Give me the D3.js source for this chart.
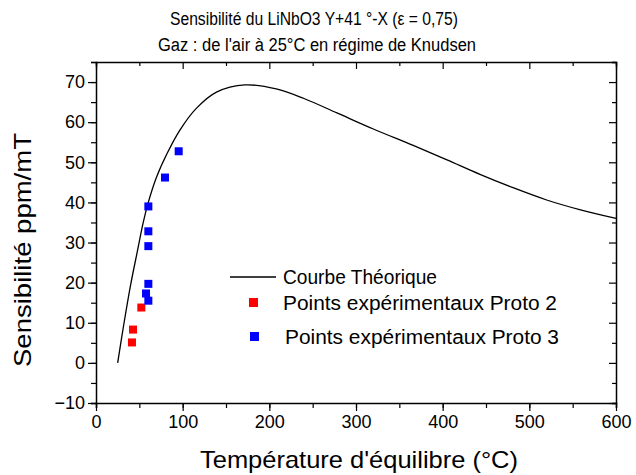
<!DOCTYPE html>
<html>
<head>
<meta charset="utf-8">
<script src="https://cdn.jsdelivr.net/npm/d3@7"></script>
<style>
  body { margin: 0; background: #fff; }
  svg { font-family: "Liberation Sans", Arial, sans-serif; }
</style>
</head>
<body>
<svg width="636" height="475"></svg>
<script>
// theoretical curve
const curveT = [25, 32, 40, 48, 54, 60, 70, 82, 97, 116, 139, 172, 208, 240, 278, 320, 366, 405, 443, 482, 520, 558, 600];
const curveS = [0, 9.5, 19.5, 28.1, 34.5, 39.75, 46.4, 52.2, 58.1, 63.5, 67.5, 69.3, 68.3, 65.9, 62.3, 58.3, 54.2, 50.6, 47.0, 43.6, 40.6, 38.2, 36.0];

// experimental points
const proto2T = [41.5, 42.7, 52.3];
const proto2S = [5.1, 8.3, 13.8];
const proto3T = [60.4, 57.7, 60.4, 60.4, 60.4, 60.4, 79.6, 95.4];
const proto3S = [15.5, 17.3, 19.7, 29.1, 32.8, 39, 46.2, 52.75];

const xTicks = [0, 100, 200, 300, 400, 500, 600];
const yTicks = [-10, 0, 10, 20, 30, 40, 50, 60, 70];

const margin = {top: 62, right: 20, bottom: 72, left: 96};
const width = 636 - margin.left - margin.right;
const height = 475 - margin.top - margin.bottom;

const svg = d3.select('svg');
const g = svg.append('g').attr('transform', `translate(${margin.left},${margin.top})`);

const x = d3.scaleLinear().domain([0, 600]).range([0, width]);
const y = d3.scaleLinear().domain([-10, 75]).range([height, 0]);

const minorX = d3.range(0, 601, 50);
const minorY = d3.range(-10, 76, 5);

// bottom axis, ticks outward
g.append('g').attr('transform', `translate(0,${height})`)
  .call(d3.axisBottom(x).tickValues(minorX).tickSize(5).tickFormat(''));
g.append('g').attr('transform', `translate(0,${height})`)
  .call(d3.axisBottom(x).tickValues(xTicks).tickSize(8).tickPadding(4).tickFormat(d3.format('d')))
  .call(a => a.select('.domain').remove())
  .selectAll('text').attr('font-size', 18).attr('fill', '#000').attr('font-family', 'Liberation Sans, Arial, sans-serif');

// left axis, ticks outward
g.append('g')
  .call(d3.axisLeft(y).tickValues(minorY).tickSize(5).tickFormat(''));
g.append('g')
  .call(d3.axisLeft(y).tickValues(yTicks).tickSize(8).tickPadding(3).tickFormat(d3.format('d')))
  .call(a => a.select('.domain').remove())
  .selectAll('text').attr('font-size', 18).attr('fill', '#000').attr('font-family', 'Liberation Sans, Arial, sans-serif');

// top and right axes, ticks inward
g.append('g')
  .call(d3.axisTop(x).tickValues(minorX).tickSize(-4).tickFormat(''))
  .call(a => a.selectAll('.tick line').filter(d => d % 100 === 0).attr('y2', 7));
g.append('g').attr('transform', `translate(${width},0)`)
  .call(d3.axisRight(y).tickValues(minorY).tickSize(-4).tickFormat(''))
  .call(a => a.selectAll('.tick line').filter(d => d % 10 === 0).attr('x2', -7));

g.selectAll('.domain').attr('stroke', '#000').attr('stroke-width', 1.5);
g.selectAll('.tick line').attr('stroke', '#000').attr('stroke-width', 1.2);

// theoretical curve
const curveData = curveT.map((t, i) => ({t: t, s: curveS[i]}));
const line = d3.line()
  .x(d => x(d.t))
  .y(d => y(d.s))
  .curve(d3.curveCatmullRom);

g.append('path')
  .attr('d', line(curveData))
  .attr('fill', 'none')
  .attr('stroke', '#000')
  .attr('stroke-width', 1.3);

// points
const sq = 8;
const p2 = proto2T.map((t, i) => ({t: t, s: proto2S[i]}));
const p3 = proto3T.map((t, i) => ({t: t, s: proto3S[i]}));

g.selectAll('.p2').data(p2).enter().append('rect')
  .attr('x', d => x(d.t) - sq / 2)
  .attr('y', d => y(d.s) - sq / 2)
  .attr('width', sq).attr('height', sq)
  .attr('fill', '#ff0000');

g.selectAll('.p3').data(p3).enter().append('rect')
  .attr('x', d => x(d.t) - sq / 2)
  .attr('y', d => y(d.s) - sq / 2)
  .attr('width', sq).attr('height', sq)
  .attr('fill', '#0000ff');

// legend
const lg = svg.append('g').attr('font-size', 20).attr('fill', '#000');
lg.append('line').attr('x1', 230).attr('x2', 276).attr('y1', 277).attr('y2', 277)
  .attr('stroke', '#000').attr('stroke-width', 1.3);
lg.append('text').attr('x', 283).attr('y', 284).attr('textLength', 154).attr('lengthAdjust', 'spacingAndGlyphs')
  .text('Courbe Théorique');
lg.append('rect').attr('x', 249).attr('y', 298).attr('width', 9).attr('height', 9).attr('fill', '#ff0000');
lg.append('text').attr('x', 283).attr('y', 310).attr('textLength', 274).attr('lengthAdjust', 'spacingAndGlyphs')
  .text('Points expérimentaux Proto 2');
lg.append('rect').attr('x', 250).attr('y', 332).attr('width', 9).attr('height', 9).attr('fill', '#0000ff');
lg.append('text').attr('x', 285).attr('y', 344).attr('textLength', 274).attr('lengthAdjust', 'spacingAndGlyphs')
  .text('Points expérimentaux Proto 3');

// title
svg.append('text').attr('x', 170).attr('y', 25).attr('font-size', 18)
  .attr('textLength', 288).attr('lengthAdjust', 'spacingAndGlyphs')
  .text('Sensibilité du LiNbO3 Y+41 °-X (ε = 0,75)');
svg.append('text').attr('x', 158).attr('y', 51).attr('font-size', 18)
  .attr('textLength', 318).attr('lengthAdjust', 'spacingAndGlyphs')
  .text('Gaz : de l\'air à 25°C en régime de Knudsen');

// axis titles
svg.append('text')
  .attr('x', 200).attr('y', 468)
  .attr('font-size', 24)
  .attr('textLength', 318).attr('lengthAdjust', 'spacingAndGlyphs')
  .text('Température d\'équilibre (°C)');

svg.append('text')
  .attr('transform', 'rotate(-90)')
  .attr('x', -367).attr('y', 31)
  .attr('font-size', 24)
  .attr('textLength', 234).attr('lengthAdjust', 'spacingAndGlyphs')
  .text('Sensibilité ppm/mT');
</script>
</body>
</html>
